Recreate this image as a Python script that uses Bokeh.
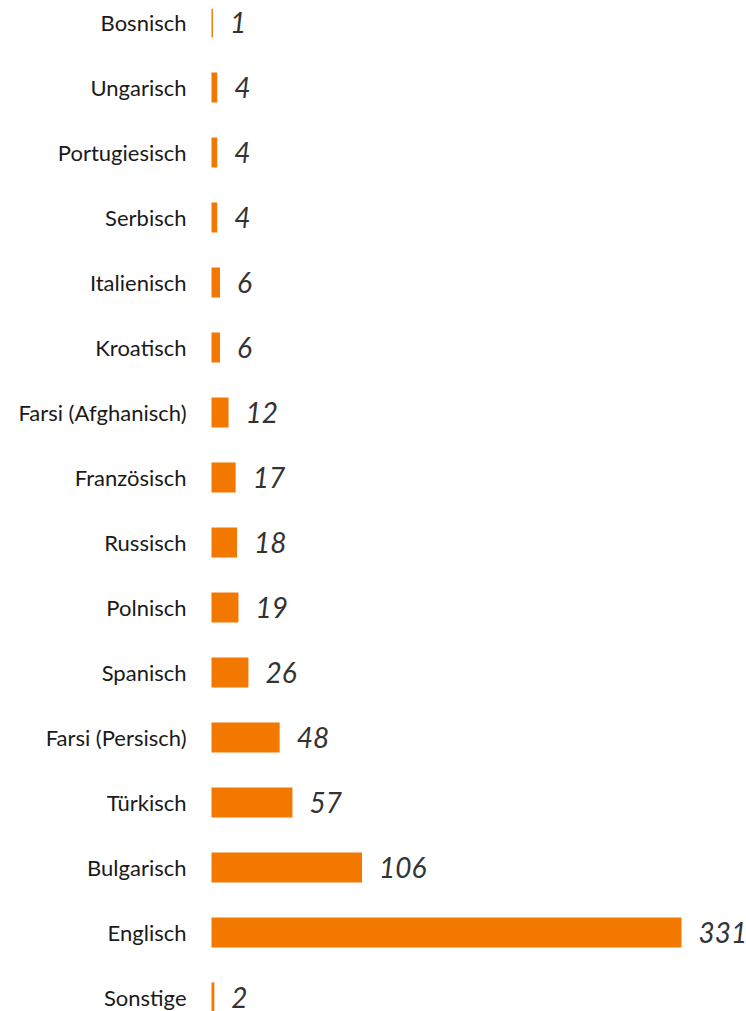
from bokeh.plotting import figure
from bokeh.models import ColumnDataSource, FactorRange, Range1d
from bokeh.core.properties import value
from bokeh.embed import file_html
from bokeh.resources import INLINE

categories = ["Bosnisch", "Ungarisch", "Portugiesisch", "Serbisch", "Italienisch",
              "Kroatisch", "Farsi (Afghanisch)", "Französisch", "Russisch", "Polnisch",
              "Spanisch", "Farsi (Persisch)", "Türkisch", "Bulgarisch", "Englisch", "Sonstige"]
counts = [1, 4, 4, 4, 6, 6, 12, 17, 18, 19, 26, 48, 57, 106, 331, 2]
labels = [str(c) for c in counts]

W, H = 746, 1011
TOP = 8
scale = 470 / 331.0
x0 = 211

src = ColumnDataSource(dict(cat=categories, val=counts, lab=labels, zero=[0] * len(counts)))

p = figure(width=W, height=H, output_backend="svg", toolbar_location=None,
           x_range=Range1d(-x0 / scale, (W - x0) / scale),
           y_range=FactorRange(factors=list(reversed(categories)),
                               range_padding=-0.285, range_padding_units="absolute"),
           min_border=0, min_border_left=0, min_border_right=0,
           min_border_top=TOP, min_border_bottom=0)
p.axis.visible = False
p.grid.visible = False
p.outline_line_color = None
p.background_fill_color = "white"
p.border_fill_color = "white"

p.hbar(y="cat", left=0, right="val", height=0.46, source=src,
       fill_color="#F27800", line_color=None)

p.text(x="zero", y="cat", text="cat", source=src, x_offset=-25,
       text_align="right", text_baseline="middle",
       text_font=value("Lato"), text_font_size="22px", text_color="#1a1a1a")

p.text(x="val", y="cat", text="lab", source=src, x_offset=17,
       text_align="left", text_baseline="middle",
       text_font=value("Lato"), text_font_size="28px", text_font_style="italic",
       text_color="#333333")

open("out.html", "w").write(file_html(p, INLINE))
